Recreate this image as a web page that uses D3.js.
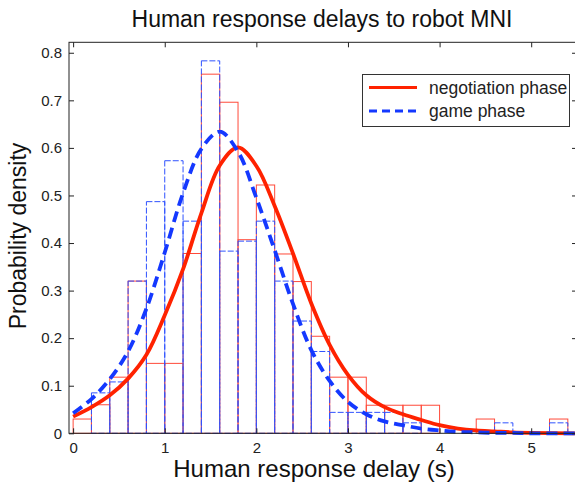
<!DOCTYPE html>
<html>
<head>
<meta charset="utf-8">
<script src="https://cdn.jsdelivr.net/npm/d3@7"></script>
<style>
    body { margin: 0; background: #fff; }
    svg { display: block; font-family: "Liberation Sans", Arial, Helvetica, sans-serif; }
</style>
</head>
<body>
<div id="chart"></div>
<script>
// ——— DATA —————————————————————————————————————————————————————————
const binStarts = [0, 0.2, 0.4, 0.6, 0.8, 1.0, 1.2, 1.4, 1.6, 1.8, 2.0, 2.2, 2.4, 2.6,
    2.8, 3.0, 3.2, 3.4, 3.6, 3.8, 4.0, 4.2, 4.4, 4.6, 4.8, 5.0, 5.2];
const binWidth = 0.2;

// histogram heights (probability density)
const negotiationHist = [0.030, 0.060, 0.118, 0.320, 0.147, 0.147, 0.378, 0.755, 0.696, 0.407,
    0.522, 0.377, 0.319, 0.204, 0.118, 0.118, 0.059, 0.059, 0.059, 0.059,
    0, 0, 0.030, 0, 0, 0, 0.030];
const gameHist = [0, 0.085, 0.108, 0.320, 0.487, 0.573, 0.446, 0.783, 0.383, 0.404,
    0.446, 0.320, 0.236, 0.172, 0.044, 0.044, 0.044, 0.044, 0.022, 0,
    0, 0, 0, 0.022, 0, 0, 0.022];

// fitted density curves
const curveX = [0, 0.2, 0.4, 0.6, 0.8, 1.0, 1.2, 1.4, 1.6, 1.8, 2.0, 2.2, 2.4, 2.6, 2.8,
    3.0, 3.2, 3.4, 3.6, 3.8, 4.0, 4.2, 4.4, 4.6, 4.8, 5.0, 5.5];
const negotiationPdf = [0.035, 0.055, 0.080, 0.115, 0.165, 0.248, 0.345, 0.463, 0.563, 0.601,
    0.562, 0.478, 0.378, 0.273, 0.186, 0.123, 0.080, 0.055, 0.040, 0.028,
    0.017, 0.010, 0.006, 0.004, 0.002, 0.001, 0];
const gamePdf = [0.042, 0.072, 0.114, 0.172, 0.262, 0.380, 0.505, 0.598, 0.634, 0.592,
    0.495, 0.385, 0.272, 0.175, 0.110, 0.066, 0.040, 0.025, 0.017, 0.010,
    0.006, 0.003, 0.002, 0.001, 0.001, 0, 0];

const xTicks = [0, 1, 2, 3, 4, 5];
const yTicks = [0, 0.1, 0.2, 0.3, 0.4, 0.5, 0.6, 0.7, 0.8];
const seriesNames = ["negotiation phase", "game phase"];

// ——— SETUP ————————————————————————————————————————————————————————
const width = 575;
const height = 489;
const plot = { left: 69, right: 577, top: 42.3, bottom: 433.3 };

const red = "#ff2200";
const blue = "#1438ff";
const histRed = "#ff4a3a";
const histBlue = "#2f52ff";
const ink = "#222";

const svg = d3.select("#chart").append("svg")
    .attr("width", width)
    .attr("height", height);

const xScale = d3.scaleLinear().domain([-0.045, 5.5]).range([plot.left, plot.right]);
const yScale = d3.scaleLinear().domain([0, 0.822]).range([plot.bottom, plot.top]);

// ——— HISTOGRAMS ———————————————————————————————————————————————————
function drawHist(values, color, dash) {
    svg.append("g")
        .selectAll("rect")
        .data(values.map((v, i) => ({ x0: binStarts[i], v })).filter(d => d.v > 0))
        .enter()
        .append("rect")
        .attr("x", d => xScale(d.x0))
        .attr("y", d => yScale(d.v))
        .attr("width", d => xScale(d.x0 + binWidth) - xScale(d.x0))
        .attr("height", d => yScale(0) - yScale(d.v))
        .attr("fill", "none")
        .attr("stroke", color)
        .attr("stroke-width", 1)
        .attr("stroke-dasharray", dash);
}
drawHist(negotiationHist, histRed, null);
drawHist(gameHist, histBlue, "6,2");

// ——— CURVES ———————————————————————————————————————————————————————
const line = d3.line()
    .x(d => xScale(d[0]))
    .y(d => yScale(d[1]))
    .curve(d3.curveCatmullRom);

svg.append("path")
    .attr("d", line(curveX.map((x, i) => [x, negotiationPdf[i]])))
    .attr("fill", "none")
    .attr("stroke", red)
    .attr("stroke-width", 3.8);

svg.append("path")
    .attr("d", line(curveX.map((x, i) => [x, gamePdf[i]])))
    .attr("fill", "none")
    .attr("stroke", blue)
    .attr("stroke-width", 3.8)
    .attr("stroke-dasharray", "11,6");

// ——— AXES —————————————————————————————————————————————————————————
function styleAxis(g) {
    g.select(".domain").remove();
    g.selectAll(".tick line").attr("stroke", ink);
    g.selectAll(".tick text").attr("fill", ink).style("font-size", "15px");
}

svg.append("g")
    .attr("transform", `translate(0,${plot.bottom})`)
    .call(d3.axisBottom(xScale).tickValues(xTicks).tickSize(-5).tickPadding(9).tickFormat(d3.format("d")))
    .call(styleAxis);
svg.append("g")
    .attr("transform", `translate(0,${plot.top})`)
    .call(d3.axisTop(xScale).tickValues(xTicks).tickSize(-5).tickFormat(""))
    .call(styleAxis);
svg.append("g")
    .attr("transform", `translate(${plot.left},0)`)
    .call(d3.axisLeft(yScale).tickValues(yTicks).tickSize(-5).tickPadding(7).tickFormat(d => d === 0 ? "0" : d3.format(".1f")(d)))
    .call(styleAxis);
svg.append("g")
    .attr("transform", `translate(${plot.right},0)`)
    .call(d3.axisRight(yScale).tickValues(yTicks).tickSize(-5).tickFormat(""))
    .call(styleAxis);

svg.append("rect")
    .attr("x", plot.left)
    .attr("y", plot.top)
    .attr("width", plot.right - plot.left)
    .attr("height", plot.bottom - plot.top)
    .attr("fill", "none")
    .attr("stroke", ink)
    .attr("stroke-width", 1);

// ——— LABELS ———————————————————————————————————————————————————————
svg.append("text")
    .attr("x", 322)
    .attr("y", 27)
    .attr("text-anchor", "middle")
    .style("font-size", "23px")
    .attr("fill", "#111")
    .text("Human response delays to robot MNI");

svg.append("text")
    .attr("x", 314)
    .attr("y", 477)
    .attr("text-anchor", "middle")
    .style("font-size", "24px")
    .attr("fill", "#111")
    .text("Human response delay (s)");

svg.append("text")
    .attr("transform", "translate(26,236) rotate(-90)")
    .attr("text-anchor", "middle")
    .style("font-size", "23px")
    .attr("fill", "#111")
    .text("Probability density");

// ——— LEGEND ———————————————————————————————————————————————————————
const legend = svg.append("g");
legend.append("rect")
    .attr("x", 362.5)
    .attr("y", 74.5)
    .attr("width", 207)
    .attr("height", 52)
    .attr("fill", "#fff")
    .attr("stroke", "#333")
    .attr("stroke-width", 1);

const legendItems = [
    { name: seriesNames[0], color: red, dash: null, y: 87.5 },
    { name: seriesNames[1], color: blue, dash: "8,5", y: 111 }
];
legendItems.forEach(item => {
    legend.append("line")
        .attr("x1", 369).attr("x2", 417)
        .attr("y1", item.y).attr("y2", item.y)
        .attr("stroke", item.color)
        .attr("stroke-width", 3)
        .attr("stroke-dasharray", item.dash);
    legend.append("text")
        .attr("x", 429)
        .attr("y", item.y + 6)
        .style("font-size", "17.5px")
        .attr("fill", "#222")
        .text(item.name);
});
</script>
</body>
</html>
